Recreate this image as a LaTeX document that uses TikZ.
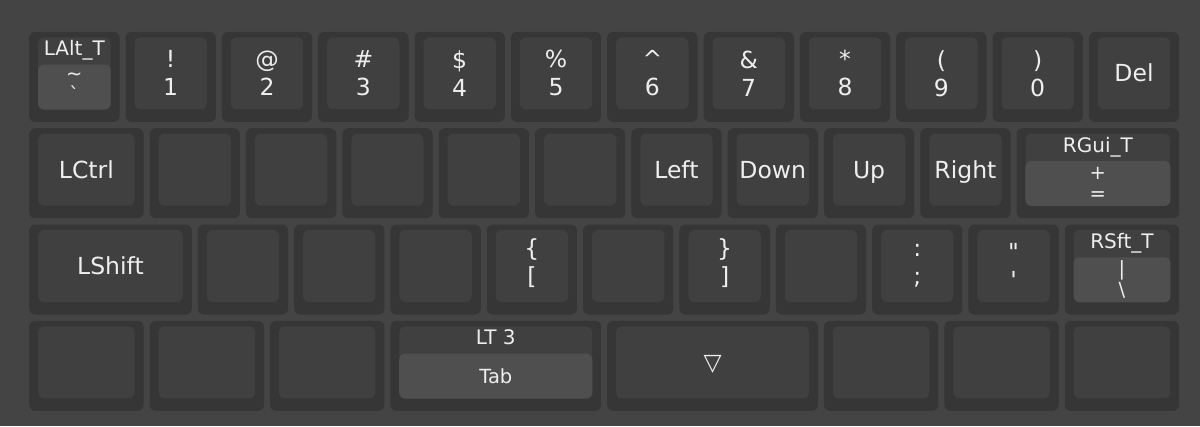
\documentclass[tikz,border=0pt]{standalone}
\usepackage{fontspec}
\setmainfont{DejaVu Sans}
\usetikzlibrary{fit}
\definecolor{boardbg}{HTML}{444444}
\definecolor{capouter}{HTML}{363636}
\definecolor{capinner}{HTML}{404040}
\definecolor{capheld}{HTML}{4F4F4F}
\definecolor{captext}{HTML}{EEEEEE}
% one key: name, column (units), row, width (units)
\newcommand{\keycap}[4]{%
  \node[keyout, minimum width={#4*96.33-6}, anchor=north west] (#1) at ({29+#2*96.33},{31.7+#3*96.33}) {};
  \node[keyin, minimum width={#4*96.33-24}, anchor=north] (#1-in) at ([yshift=-5.5pt]#1.north) {};
}
% hold-tap marking on a key: name, hold text, tap text
\newcommand{\holdtap}[3]{%
  \node[heldbox, fit={([yshift=45pt]#1-in.south west) (#1-in.south east)}] (#1-h) {};
  \node[holdlbl, anchor=base] (#1-hl) at ([yshift=-18.5pt]#1-in.north) {#2};
  \node[taplbl] (#1-tl) at (#1-h) {#3};
}

\begin{document}
\begin{tikzpicture}[
		x=1pt, y=-1pt,
		keyout/.style={rectangle, rounded corners=6pt, fill=capouter, inner sep=0pt, minimum height=90pt},
		keyin/.style={rectangle, rounded corners=6pt, fill=capinner, inner sep=0pt, minimum height=72pt},
		heldbox/.style={rectangle, rounded corners=6pt, fill=capheld, inner sep=0pt},
		lbl/.style={text=captext, font=\fontsize{23.5}{28}\selectfont, align=center, inner sep=0pt},
		word/.style={lbl, text height=17pt, text depth=0pt},
		holdlbl/.style={text=captext, font=\fontsize{20}{22}\selectfont, inner sep=0pt},
		taplbl/.style={text=captext, font=\fontsize{19.5}{21}\selectfont, align=center, inner sep=0pt}
		]
		\fill[boardbg] (0,0) rectangle (1200,426);
		\useasboundingbox (0,0) rectangle (1200,426);
		% number row
		\keycap{lalt}{0}{0}{1}
		\holdtap{lalt}{LAlt\_T}{\textasciitilde\\\textasciigrave}
		\foreach \lbl [count=\c from 1] in {{!\\1},{@\\2},{\#\\3},{\$\\4},{\%\\5},{\^{}\\6},{\&\\7},{*\\8},{(\\9},{)\\0}} {
			\keycap{n\c}{\c}{0}{1}
			\node[lbl] (n\c-t) at (n\c-in) {\lbl};
		}
		\keycap{del}{11}{0}{1}
		\node[word] (del-t) at (del-in) {Del};
		% home row
		\keycap{lctrl}{0}{1}{1.25}
		\node[word] (lctrl-t) at (lctrl-in) {LCtrl};
		\keycap{left}{6.25}{1}{1}
		\node[word] (left-t) at (left-in) {Left};
		\keycap{down}{7.25}{1}{1}
		\node[word] (down-t) at (down-in) {Down};
		\keycap{up}{8.25}{1}{1}
		\node[word] (up-t) at (up-in) {Up};
		\keycap{right}{9.25}{1}{1}
		\node[word] (right-t) at (right-in) {Right};
		\keycap{rgui}{10.25}{1}{1.75}
		\holdtap{rgui}{RGui\_T}{+\\=}
		% shift row
		\keycap{lshift}{0}{2}{1.75}
		\node[word] (lshift-t) at (lshift-in) {LShift};
		\keycap{lbrc}{4.75}{2}{1}
		\node[lbl] (lbrc-t) at ([yshift=3pt]lbrc-in) {\{\\{[}};
		\keycap{rbrc}{6.75}{2}{1}
		\node[lbl] (rbrc-t) at ([yshift=3pt]rbrc-in) {\}\\{]}};
		\keycap{scln}{8.75}{2}{1}
		\node[lbl] (scln-t) at (scln-in) {:\\;};
		\keycap{quot}{9.75}{2}{1}
		\node[lbl] (quot-t) at (quot-in) {\textquotedbl\\\textquotesingle};
		\keycap{rsft}{10.75}{2}{1.25}
		\holdtap{rsft}{RSft\_T}{|\\\textbackslash}
		% thumb row
		\keycap{lt3}{3.75}{3}{2.25}
		\holdtap{lt3}{LT 3}{Tab}
		\keycap{spc}{6}{3}{2.25}
		\node[word] (spc-t) at (spc-in) {▽};
		% empty keys
		\foreach \c/\r/\w [count=\n] in {1.25/1/1, 2.25/1/1, 3.25/1/1, 4.25/1/1, 5.25/1/1,
			1.75/2/1, 2.75/2/1, 3.75/2/1, 5.75/2/1, 7.75/2/1,
			0/3/1.25, 1.25/3/1.25, 2.5/3/1.25, 8.25/3/1.25, 9.5/3/1.25, 10.75/3/1.25} {
			\keycap{e\n}{\c}{\r}{\w}
		}
	\end{tikzpicture}
\end{document}
